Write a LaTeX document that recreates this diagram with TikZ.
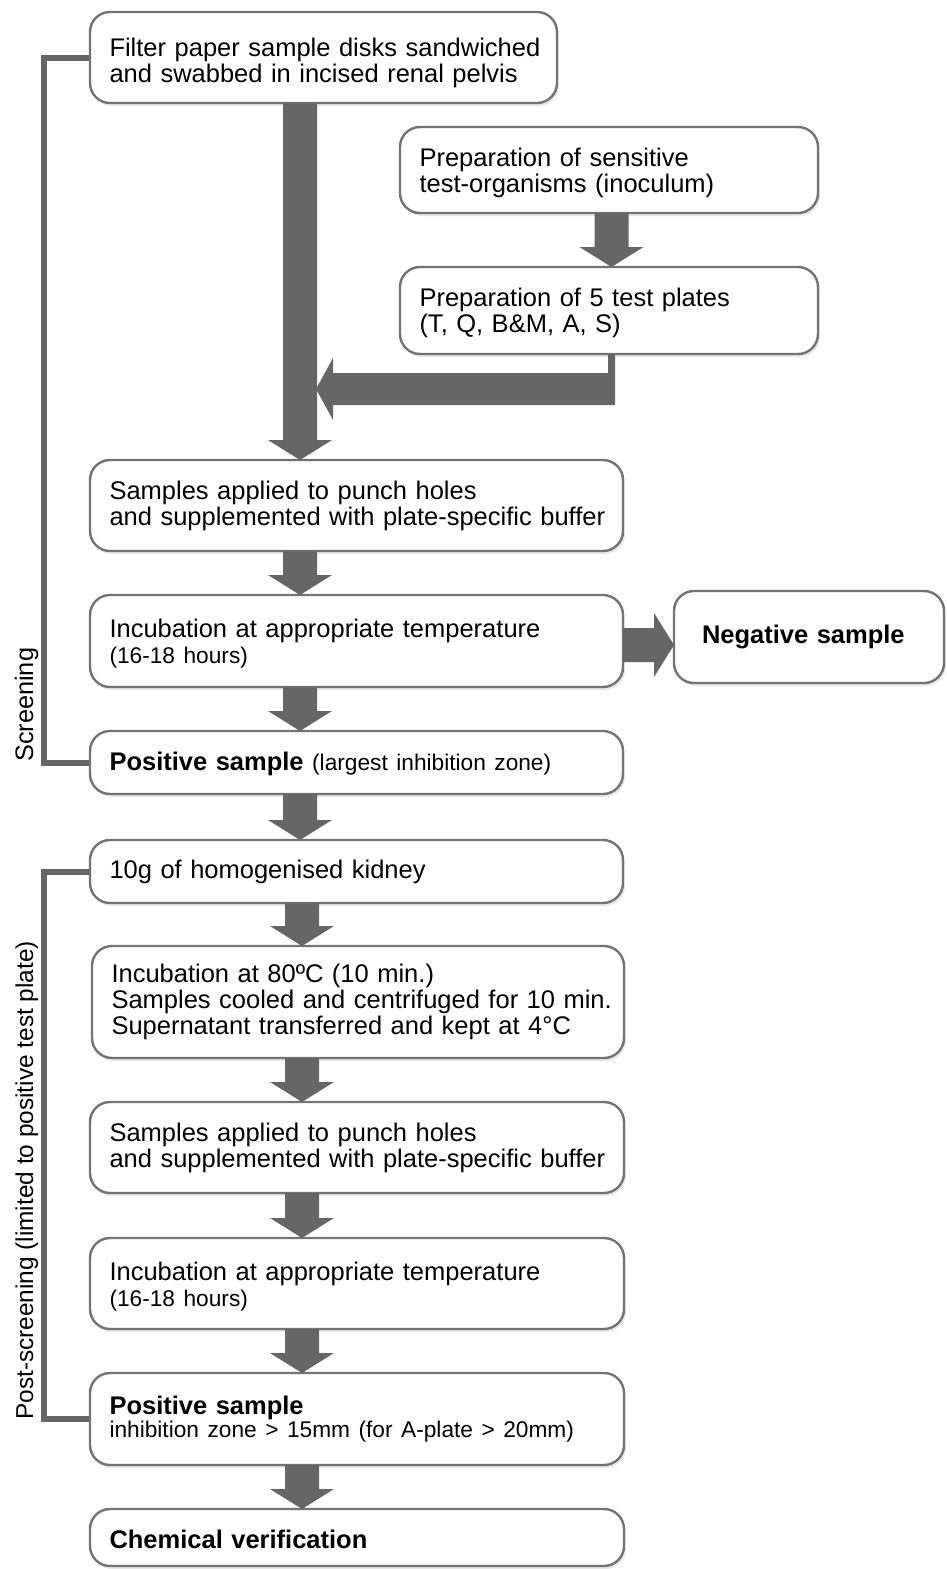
\documentclass[tikz,border=0pt]{standalone}
\usepackage{fontspec}
\setmainfont{Liberation Sans}
\usetikzlibrary{calc,shadows,backgrounds}
\definecolor{arrowgray}{HTML}{666666}
\definecolor{bordergray}{HTML}{737373}
\newcommand\mainsize{\fontsize{25.5pt}{26pt}\selectfont}
\newcommand\smallsize{\fontsize{22.7pt}{26pt}\selectfont}
\newcommand\mystrut[1]{\rule{0pt}{#1}}
% vertical block arrow: from node, to node, x coordinate
\newcommand\vblk[3]{%
  \fill[arrowgray] ($(#1.south -| #3)+(-17,0)$) -- ($(#2.north -| #3)+(-17,-20)$)
    -- ($(#2.north -| #3)+(-32,-20)$) -- (#2.north -| #3)
    -- ($(#2.north -| #3)+(32,-20)$) -- ($(#2.north -| #3)+(17,-20)$)
    -- ($(#1.south -| #3)+(17,0)$) -- cycle;}
\begin{document}
\begin{tikzpicture}[x=1pt,y=-1pt,
  flowbox/.style={draw=bordergray, line width=2.4pt, rounded corners=20pt, fill=white,
    anchor=north west, inner xsep=19.5pt, inner ysep=0pt, outer sep=0pt, align=left,
    font=\mainsize,
    drop shadow={shadow xshift=2pt, shadow yshift=-3pt, opacity=0.18}},
  bracketline/.style={draw=arrowgray, line width=6pt},
  sidelabel/.style={rotate=90, anchor=base west, inner sep=0pt}]

\useasboundingbox (0,0) rectangle (946,1569);

% boxes
\node[flowbox, minimum width=467pt, minimum height=91pt, text width=428pt] (b1) at (90,12)
  {\mbox{\mystrut{28.6pt}Filter paper sample disks sandwiched}\\\mbox{and swabbed in incised renal pelvis}};
\node[flowbox, minimum width=418pt, minimum height=86pt, text width=379pt] (b2) at (400,127)
  {\mbox{\mystrut{24.6pt}Preparation of sensitive}\\\mbox{test-organisms (inoculum)}};
\node[flowbox, minimum width=418pt, minimum height=87pt, text width=379pt] (b3) at (400,267)
  {\mbox{\mystrut{23.6pt}Preparation of 5 test plates}\\\mbox{(T, Q, B\&M, A, S)}};
\node[flowbox, minimum width=533pt, minimum height=91pt, text width=494pt] (b4) at (90,460)
  {\mbox{Samples applied to punch holes}\\\mbox{and supplemented with plate-specific buffer}};
\node[flowbox, minimum width=533pt, minimum height=92pt, text width=494pt] (b5) at (90,595)
  {\mbox{\mystrut{24.6pt}Incubation at appropriate temperature}\\\mbox{\smallsize (16-18 hours)}};
\node[flowbox, minimum width=270pt, minimum height=92pt, inner xsep=28pt, text width=214pt] (neg) at (674,591)
  {\mbox{\bfseries Negative sample}};
\node[flowbox, minimum width=533pt, minimum height=63pt, text width=494pt] (b6) at (90,731)
  {\mbox{\mystrut{20.6pt}\textbf{Positive sample} {\smallsize (largest inhibition zone)}}};
\node[flowbox, minimum width=533pt, minimum height=63pt, text width=494pt] (b7) at (90,840)
  {\mbox{10g of homogenised kidney}};
\node[flowbox, minimum width=532pt, minimum height=112pt, text width=493pt] (b8) at (92,946)
  {\mbox{Incubation at 80ºC (10 min.)}\\\mbox{Samples cooled and centrifuged for 10 min.}\\\mbox{Supernatant transferred and kept at 4°C}};
\node[flowbox, minimum width=534pt, minimum height=91pt, text width=495pt] (b9) at (90,1102)
  {\mbox{Samples applied to punch holes}\\\mbox{and supplemented with plate-specific buffer}};
\node[flowbox, minimum width=534pt, minimum height=91pt, text width=495pt] (b10) at (90,1238)
  {\mbox{\mystrut{24.6pt}Incubation at appropriate temperature}\\\mbox{\smallsize (16-18 hours)}};
\node[flowbox, minimum width=534pt, minimum height=92pt, text width=495pt] (b11) at (90,1373)
  {\mbox{\bfseries Positive sample}\\[-2.5pt]\mbox{\smallsize inhibition zone > 15mm (for A-plate > 20mm)}};
\node[flowbox, minimum width=534pt, minimum height=57pt, text width=495pt] (b12) at (90,1509)
  {\mbox{\mystrut{21.5pt}\bfseries Chemical verification}};

% side brackets and labels
\begin{scope}[on background layer]
  \draw[bracketline] (b1.west) -- ++(-46,0) |- (b6.west);
  \draw[bracketline] (b7.west) -- ++(-46,0) |- (b11.west);
\end{scope}
\node[sidelabel, font=\fontsize{25.3pt}{26pt}\selectfont] (lab1) at (33,762) {Screening};
\node[sidelabel, font=\fontsize{24.4pt}{26pt}\selectfont] (lab2) at (33,1420) {Post-screening (limited to positive test plate)};

% arrow axes
\coordinate (ax1) at (300,0);
\coordinate (ax2) at (302,0);
\coordinate (ax3) at (611.5,0);

% block arrows
\vblk{b1}{b4}{ax1}
\vblk{b2}{b3}{ax3}
\vblk{b4}{b5}{ax1}
\vblk{b5}{b6}{ax1}
\vblk{b6}{b7}{ax1}
\vblk{b7}{b8}{ax2}
\vblk{b8}{b9}{ax2}
\vblk{b9}{b10}{ax2}
\vblk{b10}{b11}{ax2}
\vblk{b11}{b12}{ax2}

% L-shaped arrow from test plates into main flow
\coordinate (ltip) at ($(b4.north -| ax1)+(16,-71)$);
\coordinate (lcorner) at ($(b3.south -| ax3)+(3.5,0)$);
\fill[arrowgray] ($(b3.south -| ax3)+(-3.5,0)$) -- (lcorner)
  -- (lcorner |- {$(ltip)+(0,16)$}) -- ($(ltip)+(17,16)$) -- ($(ltip)+(17,31)$)
  -- (ltip) -- ($(ltip)+(17,-31)$) -- ($(ltip)+(17,-16)$)
  -- ({$(b3.south -| ax3)+(-3.5,0)$} |- {$(ltip)+(0,-16)$}) -- cycle;

% arrow to negative sample
\coordinate (nA) at ($(b5.east)+(0,4)$);
\coordinate (nT) at (nA -| neg.west);
\fill[arrowgray] ($(nA)+(0,-17)$) -- ($(nT)+(-20,-17)$) -- ($(nT)+(-20,-32)$) -- (nT)
  -- ($(nT)+(-20,32)$) -- ($(nT)+(-20,17)$) -- ($(nA)+(0,17)$) -- cycle;
\end{tikzpicture}
\end{document}
